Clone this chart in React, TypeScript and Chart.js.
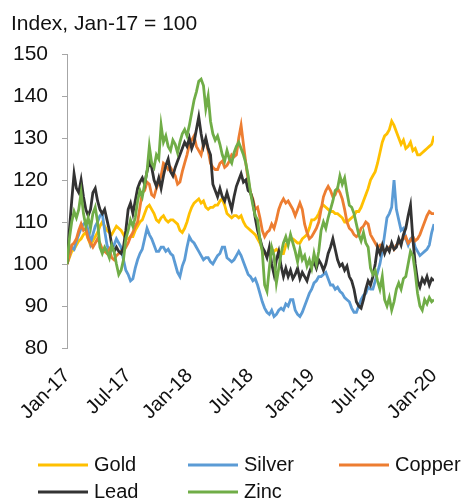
import React, { useEffect, useRef } from "react";
import { Chart, registerables } from "chart.js";

Chart.register(...registerables);

// Weekly observations, Jan-17 (week 0) to Jan-20 (week 156)
const tickLabels = ["Jan-17", "Jul-17", "Jan-18", "Jul-18", "Jan-19", "Jul-19", "Jan-20"];
const weeksPerTick = 26;

const gold = [
  100, 101.5, 103, 103.5, 104.5, 105.5, 106, 107, 107.5, 106,
  104.5, 105.5, 106.5, 107.5, 109, 110, 109, 108, 107.5, 107,
  108, 109, 108.5, 108, 107, 106, 106, 106.5, 106.5, 108,
  109, 110, 110.5, 112, 113.5, 114, 113, 112, 110.5, 110,
  111, 111.5, 110.5, 110, 110.5, 110.5, 110, 109.5, 108, 107.5,
  108.5, 110, 112, 113.5, 114.5, 115, 115.5, 114.5, 115, 113.5,
  113, 113.5, 113.5, 114, 114, 115, 115.5, 114, 112, 111.5,
  111, 111.5, 111.5, 111, 111.5, 110, 109, 108.5, 108, 107.5,
  107, 106, 105, 103.5, 102.5, 102, 103.5, 103.5, 103, 103.5,
  103, 102.5, 102.5, 104.5, 105.5, 106, 106, 105.5, 105, 105,
  106, 106.5, 107, 108.5, 110.5, 110.5, 111, 112, 113.5, 114,
  113.5, 113, 112.5, 112.5, 112, 112, 111.5, 111, 110, 110,
  110.5, 111, 111.5, 112.5, 112.5, 113.5, 115, 116.5, 118, 120,
  121, 122, 124, 126.5, 129, 130.5, 131, 132, 134, 133,
  131.5, 130, 128.5, 129.5, 127.5, 128, 129, 127, 127.5, 126,
  126, 126.5, 127, 127.5, 128, 128.5, 130.5,
];

const silver = [
  100, 102, 104, 103.5, 105.5, 107, 108.5, 109.5, 110, 108,
  105, 107, 109, 110, 111.5, 112, 108, 104.5, 103, 103.5,
  104.5, 106, 105, 104, 101, 98.5, 97.5, 96, 96.5, 99,
  101, 102.5, 103.5, 106, 108.5, 107, 106, 104.5, 103, 103,
  104, 104, 103, 103.5, 102.5, 102, 100, 98, 97, 99.5,
  101, 104, 106.5, 105.5, 105, 104, 103, 102, 101, 101.5,
  101.5, 100.5, 100, 101, 102, 102.5, 104, 104, 101.5, 101,
  100.5, 101, 102, 103, 102, 100.5, 99, 97.5, 97, 96,
  96.5, 95, 93, 91, 89.5, 88.5, 88, 89, 87.5, 88,
  89, 89.5, 89, 90.5, 90, 91.5, 91.5, 89, 88, 87.5,
  88.5, 90, 91.5, 93, 94, 95.5, 96, 97, 97, 97.5,
  98, 96.5, 95, 95, 94, 94.5, 93.5, 93, 92, 91.5,
  91, 89.5, 88.5, 88.5, 90, 91.5, 92.5, 93, 94.5, 94,
  94, 96, 98, 100, 103, 107, 111, 112, 113.5, 120,
  113, 110.5, 108, 108.5, 106, 104.5, 106, 106.5, 104, 103,
  102, 102.5, 103, 103.5, 104.5, 107.5, 109.5,
];

const copper = [
  100, 102, 104.5, 105, 106, 108, 109.5, 108, 108.5, 106,
  105, 104, 105, 106, 105, 103.5, 103, 102.5, 103.5, 101.5,
  101, 102, 102.5, 103, 103, 104, 105, 106.5, 107.5, 109,
  110, 113.5, 117, 117.5, 119.5, 119, 116.5, 116, 118, 119.5,
  121, 124, 123.5, 122.5, 123, 122, 121, 119, 119.5, 122,
  124, 126, 128.5, 129.5, 130.5, 128, 127, 126, 128.5, 129.5,
  127, 124, 123, 122.5, 122.5, 124, 124.5, 123, 123.5, 124.5,
  126, 125.5, 126, 130, 133, 128.5, 124, 120, 117, 115.5,
  113, 113.5, 111, 108, 106.5, 107.5, 108, 109.5, 108.5, 110.5,
  113, 114.5, 115.5, 114.5, 115, 114, 113, 111.5, 113, 114.5,
  113, 109.5, 107.5, 106, 106.5, 107.5, 108.5, 110, 113, 116,
  117.5, 118.5, 117.5, 116, 116.5, 118, 117, 115.5, 113, 110,
  108.5, 108, 107, 106.5, 107, 108.5, 109, 110, 109.5, 107,
  106, 105, 104, 104.5, 103.5, 103, 103.5, 104, 104.5, 103.5,
  104.5, 105, 105.5, 106, 106.5, 105, 105.5, 106.5, 105.5, 106,
  107, 108.5, 110, 111.5, 112.5, 112, 112,
];

const lead = [
  100, 108, 115, 121.5, 118, 117, 120, 116, 113, 111.5,
  113, 117, 118, 115, 113, 112, 113, 110.5, 108, 104.5,
  103, 104, 103, 102.5, 104, 108, 113, 114.5, 112, 115,
  118, 119.5, 120.5, 119, 122, 124.5, 123, 120, 118.5, 120.5,
  118, 121, 123.5, 125, 122, 121, 123, 124.5, 126, 127.5,
  129, 128, 130, 127.5, 129, 132, 135, 131, 128, 130,
  127.5, 126, 119, 117.5, 116, 118, 116, 115, 117, 115,
  113, 116, 118.5, 120, 121.5, 119.5, 120, 117.5, 117, 115,
  111, 108, 106, 104, 103, 101.5, 104, 100, 97.5, 101,
  103, 99.5, 97, 99, 97, 98.5, 96.5, 97.5, 99, 96.5,
  98, 97, 96, 98, 99.5, 100.5, 99, 101, 100, 98.5,
  100, 102.5, 104, 106, 103.5, 101, 99.5, 100, 98.5, 99.5,
  97, 96, 94, 91, 90, 89.5, 91.5, 94, 96, 95,
  97, 100, 104, 102.5, 104.5, 102.5, 104, 103, 105, 103.5,
  104, 106, 104.5, 107, 108.5, 111.5, 114, 106, 100, 96,
  94.5, 96.5, 95.5, 97, 95, 96.5, 96,
];

const zinc = [
  100, 106, 110, 112.5, 111, 113, 117, 112, 109, 111,
  108.5, 112, 113.5, 110, 104, 102.5, 104, 103, 101.5, 104.5,
  103, 100, 97.5, 98.5, 101, 106, 108, 110.5, 109, 111,
  115, 117.5, 116, 119, 122, 128, 124, 123, 126, 125,
  133, 129, 130.5, 128, 127, 129.5, 128.5, 126.5, 129, 131,
  132, 130.5, 133, 136, 139, 141, 143.5, 144, 142.5, 137,
  140, 134, 131, 129.5, 130.5, 128.5, 126, 124.5, 127, 125,
  124, 126.5, 128, 129, 127.5, 126, 124, 121, 117, 114,
  111.5, 110.5, 106, 103, 95, 93.5, 99, 104, 102, 95.5,
  99, 102.5, 105, 106.5, 104.5, 107, 105, 103, 100.5, 103.5,
  101, 102, 99.5, 101, 99, 102.5, 100, 103, 108, 110,
  108.5, 111, 113, 115, 117.5, 118, 121, 119, 120.5, 117,
  114, 113.5, 112, 109.5, 107, 105.5, 107.5, 105, 104, 99,
  97.5, 98.5, 96, 94, 97, 91.5, 90, 92, 89, 91,
  94, 95.5, 94, 96.5, 97, 100, 103, 102, 98, 93,
  90, 89, 91.5, 90.5, 92, 91, 91.5,
];

const seriesNames = ["Gold", "Silver", "Copper", "Lead", "Zinc"];
const seriesColors = ["#FFC000", "#5B9BD5", "#ED7D31", "#333333", "#70AD47"];
const seriesValues = [gold, silver, copper, lead, zinc];

const FONT = "'Liberation Sans', Arial, sans-serif";

const overlayPlugin = {
  id: "overlay",
  afterDraw(chart: any) {
    const ctx = chart.ctx;
    ctx.save();
    ctx.fillStyle = "#111111";
    ctx.font = `21px ${FONT}`;
    ctx.textBaseline = "alphabetic";
    ctx.textAlign = "left";
    ctx.fillText("Index, Jan-17 = 100", 11, 30);

    const cols = [38, 188, 339];
    const rows = [465, 492];
    ctx.font = `20px ${FONT}`;
    ctx.textBaseline = "middle";
    seriesNames.forEach((name, i) => {
      const x = cols[i % 3];
      const y = rows[Math.floor(i / 3)];
      ctx.strokeStyle = seriesColors[i];
      ctx.lineWidth = 3;
      ctx.beginPath();
      ctx.moveTo(x, y);
      ctx.lineTo(x + 50, y);
      ctx.stroke();
      ctx.fillStyle = "#111111";
      ctx.fillText(name, x + 56, y);
    });
    ctx.restore();
  },
};

export default function App() {
  const canvasRef = useRef<HTMLCanvasElement | null>(null);

  useEffect(() => {
    document.body.style.margin = "0";
    const canvas = canvasRef.current;
    if (!canvas) return;
    const lastWeek = (tickLabels.length - 1) * weeksPerTick;
    const chart = new Chart(canvas, {
      type: "line",
      data: {
        datasets: seriesNames.map((name, i) => ({
          label: name,
          data: seriesValues[i].map((v, k) => ({ x: k, y: v })),
          borderColor: seriesColors[i],
          backgroundColor: seriesColors[i],
          borderWidth: 2.8,
          pointRadius: 0,
          tension: 0,
          fill: false,
          order: seriesNames.length - i,
        })),
      },
      options: {
        animation: false,
        responsive: false,
        devicePixelRatio: 1,
        layout: { padding: { top: 54, left: 0, right: 8, bottom: 0 } },
        plugins: {
          legend: { display: false },
          title: { display: false },
          tooltip: { enabled: false },
        },
        scales: {
          x: {
            type: "linear",
            min: 0,
            max: lastWeek,
            afterFit: (scale: any) => {
              scale.height = 152;
            },
            afterBuildTicks: (scale: any) => {
              scale.ticks = tickLabels.map((_, i) => ({ value: i * weeksPerTick }));
            },
            grid: { display: false, drawTicks: false },
            border: { display: false },
            ticks: {
              autoSkip: false,
              minRotation: 45,
              maxRotation: 45,
              padding: 16,
              color: "#111111",
              font: { family: FONT, size: 20 },
              callback: (value: any) => tickLabels[Math.round(Number(value) / weeksPerTick)],
            },
          },
          y: {
            min: 80,
            max: 150,
            afterFit: (scale: any) => {
              scale.width = 67;
            },
            grid: {
              drawOnChartArea: false,
              drawTicks: true,
              tickLength: 5,
              color: "#A6A6A6",
            },
            border: { display: true, color: "#A6A6A6", width: 1 },
            ticks: {
              stepSize: 10,
              padding: 14,
              color: "#111111",
              font: { family: FONT, size: 21 },
            },
          },
        },
      },
      plugins: [overlayPlugin],
    });
    return () => chart.destroy();
  }, []);

  return (
    <div style={{ width: 467, height: 500 }}>
      <canvas ref={canvasRef} width={467} height={500} style={{ display: "block" }} />
    </div>
  );
}
